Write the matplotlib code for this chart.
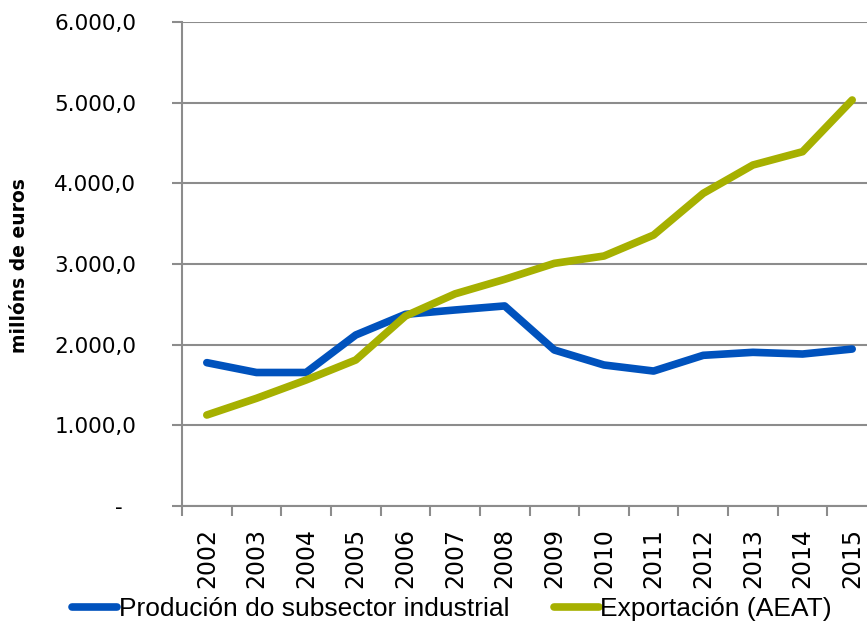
import numpy as np
import matplotlib
matplotlib.use("Agg")
import matplotlib.pyplot as plt
from matplotlib.ticker import FuncFormatter

# data (millóns de euros)
years = ["2002", "2003", "2004", "2005", "2006", "2007", "2008",
         "2009", "2010", "2011", "2012", "2013", "2014", "2015"]
producion = [1777, 1655, 1655, 2120, 2376, 2430, 2480,
             1934, 1748, 1673, 1868, 1905, 1884, 1946]
exportacion = [1128, 1335, 1562, 1810, 2355, 2630, 2810,
               3008, 3099, 3359, 3876, 4227, 4392, 5033]

blue = "#0052BD"
green = "#A6B000"
grid_col = "#8C8C8C"

fig = plt.figure(figsize=(8.67, 6.41), dpi=100)
ax = fig.add_axes([182 / 867, 1 - 506 / 641, 695 / 867, 484 / 641])

x = np.arange(len(years))
ax.plot(x, producion, color=blue, lw=5.5, solid_capstyle="round",
        solid_joinstyle="round", label="Produción do subsector industrial")
ax.plot(x, exportacion, color=green, lw=5.5, solid_capstyle="round",
        solid_joinstyle="round", label="Exportación (AEAT)")

ax.set_xlim(-0.5, len(years) - 0.5)
ax.set_ylim(0, 6000)
ax.set_yticks(np.arange(0, 6001, 1000))


def fmt(v, pos):
    if v == 0:
        return "-  "
    s = f"{v:,.1f}"
    return s.replace(",", "X").replace(".", ",").replace("X", ".")


ax.yaxis.set_major_formatter(FuncFormatter(fmt))
ax.set_xticks(np.arange(-0.5, len(years), 1.0), minor=False)
ax.set_xticklabels([])
ax.set_xticks(x, minor=True)
ax.set_xticklabels(years, minor=True, rotation=90, fontsize=17,
                   fontfamily="DejaVu Sans")
ax.tick_params(axis="x", which="major", length=7, width=1.5, color=grid_col)
ax.tick_params(axis="x", which="minor", length=0, pad=16)
ax.tick_params(axis="y", length=7, width=1.5, color=grid_col, labelsize=15.5,
               pad=26)
for lab in ax.get_yticklabels():
    lab.set_fontfamily("DejaVu Sans")

ax.grid(axis="y", color=grid_col, lw=1.5)
ax.set_axisbelow(True)
for side in ["top", "right"]:
    ax.spines[side].set_visible(False)
for side in ["left", "bottom"]:
    ax.spines[side].set_color(grid_col)
    ax.spines[side].set_linewidth(1.5)

fig.text(20 / 867, 1 - 266 / 641, "millóns de euros", rotation=90,
         ha="center", va="center", fontsize=13.5, fontweight="bold",
         fontfamily="DejaVu Sans")

leg = fig.legend(loc="center", bbox_to_anchor=(452 / 867, 1 - 609 / 641),
                 ncol=2, frameon=False, handlelength=1.7, handletextpad=0.05,
                 columnspacing=1.7,
                 prop={"family": "Liberation Sans", "size": 19})

fig.savefig("out.png", dpi=100)
